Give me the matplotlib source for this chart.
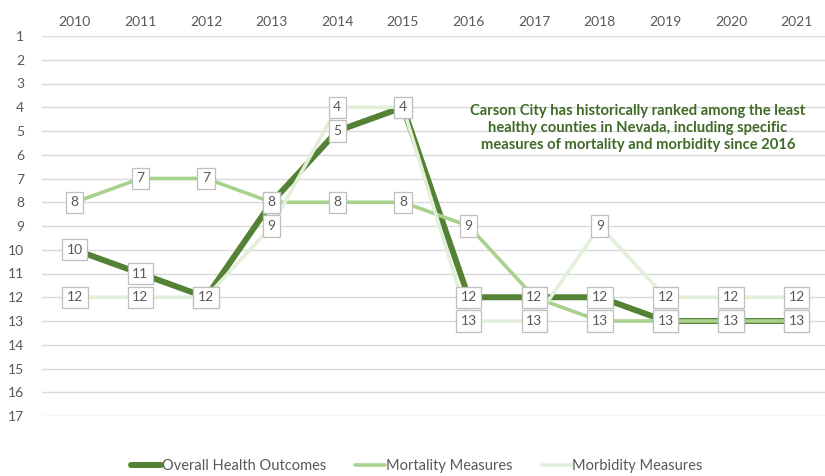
import matplotlib
matplotlib.use("Agg")
import matplotlib.pyplot as plt

# values (rank, 1 = best)
years = ["2010", "2011", "2012", "2013", "2014", "2015",
         "2016", "2017", "2018", "2019", "2020", "2021"]
overall = [10, 11, 12, 8, 5, 4, 12, 12, 12, 13, 13, 13]
mortality = [8, 7, 7, 8, 8, 8, 9, 12, 13, 13, 13, 13]
morbidity = [12, 12, 12, 9, 4, 4, 13, 13, 9, 12, 12, 12]
rank_ticks = list(range(1, 18))

note = ("Carson City has historically ranked among the least\n"
        "healthy counties in Nevada, including specific\n"
        "measures of mortality and morbidity since 2016")

plt.rcParams['font.family'] = ['Lato', 'DejaVu Sans']

series = [
    ("Overall Health Outcomes", overall, "#548235", 4.3),
    ("Mortality Measures", mortality, "#A9D18E", 2.6),
    ("Morbidity Measures", morbidity, "#E2F0D9", 2.6),
]

fig = plt.figure(figsize=(8.25, 4.76), dpi=100)
ax = fig.add_axes([42 / 825, 1 - 416 / 476, 1 - 42 / 825, 380 / 476])

x = list(range(len(years)))
for name, vals, col, lw in series:
    ax.plot(x, vals, color=col, lw=lw, label=name, solid_capstyle="round",
            solid_joinstyle="round", zorder=3)

# boxed data labels on top of all lines
for name, vals, col, lw in series:
    for xi, v in zip(x, vals):
        ax.text(xi, v, str(v), ha="center", va="center", fontsize=10,
                color="#595959", zorder=5,
                bbox=dict(boxstyle="square,pad=0.33", fc="white",
                          ec="#BFBFBF", lw=0.9))

ax.set_xlim(-0.5, 11.43)
ax.set_ylim(17, 1)
ax.set_xticks(x)
ax.set_xticklabels(years)
ax.xaxis.tick_top()
ax.set_yticks(rank_ticks)
ax.tick_params(axis="both", length=0, labelsize=10, labelcolor="#595959")
ax.tick_params(axis="x", pad=6)
ax.tick_params(axis="y", pad=13)
ax.grid(axis="y", color="#D9D9D9", lw=1)
ax.set_axisbelow(True)
for s in ax.spines.values():
    s.set_visible(False)

ax.text(0.761, 0.758, note, transform=ax.transAxes, ha="center", va="center",
        fontsize=10.6, fontweight="bold", color="#3F6B27", linespacing=1.3,
        zorder=6)

fig.legend(loc="center", bbox_to_anchor=(417 / 825, 1 - 466 / 476), ncol=3,
           frameon=False, fontsize=10.5, labelcolor="#595959",
           handlelength=2.05, handletextpad=0.05, columnspacing=2.0)

fig.savefig("out.png", dpi=100)
